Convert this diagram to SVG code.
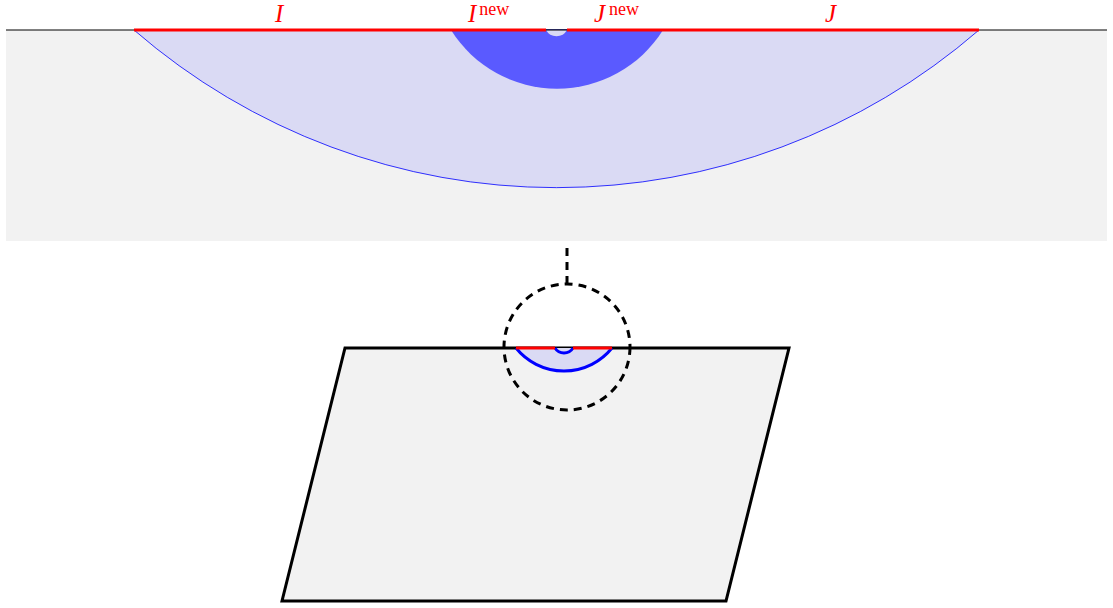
<svg xmlns="http://www.w3.org/2000/svg" width="1113" height="608" viewBox="0 0 1113 608">
<style>
.lbl{font-family:"Liberation Serif",serif;font-style:italic;font-size:25px;fill:#ff0000}
.sup{font-family:"Liberation Serif",serif;font-style:normal;font-size:18px;fill:#ff0000}
.red{stroke:#ff0000;stroke-width:3;fill:none}
</style>
<g id="top-panel">
<rect x="6" y="30" width="1101" height="211" fill="#f2f2f2"/>
<line x1="6" y1="30" x2="1107" y2="30" stroke="#000" stroke-width="1"/>
<path d="M134,30 A645,645 0 0 0 979,30 Z" fill="#dadaf4" stroke="#0000ff" stroke-width="0.8"/>
<path d="M451,30 A125,125 0 0 0 663,30 Z" fill="#5a5aff"/>
<path d="M546,30 A12,12 0 0 0 567,30 Z" fill="#dadaf4"/>
<line x1="546" y1="30" x2="567" y2="30" stroke="#000" stroke-width="1"/>
<line class="red" x1="134" y1="30" x2="546" y2="30"/>
<line class="red" x1="567" y1="30" x2="979" y2="30"/>
<text class="lbl" x="275" y="22">I</text>
<text class="lbl" x="468" y="22">I<tspan class="sup" dx="3" dy="-7">new</tspan></text>
<text class="lbl" x="594" y="22">J<tspan class="sup" dx="4" dy="-7">new</tspan></text>
<text class="lbl" x="825" y="22">J</text>
</g>
<g id="connectors">
<line x1="567" y1="248" x2="567" y2="283" stroke="#000" stroke-width="3" stroke-dasharray="8,6"/>
</g>
<g id="parallelogram">
<polygon points="345,348 789,348 726,601 282,601" fill="#f2f2f2" stroke="#000" stroke-width="3" stroke-linejoin="miter"/>
<path d="M516,348 A61.6,61.6 0 0 0 612,348 Z" fill="#dadaf4"/>
<path d="M516,348 A61.6,61.6 0 0 0 612,348" fill="none" stroke="#0000ff" stroke-width="3"/>
<path d="M555,348 A10.6,10.6 0 0 0 573,348" fill="none" stroke="#0000ff" stroke-width="3"/>
<line class="red" x1="516" y1="348" x2="555" y2="348"/>
<line class="red" x1="573" y1="348" x2="612" y2="348"/>
</g>
<g id="zoom-circle">
<circle cx="567" cy="347" r="63" fill="none" stroke="#000" stroke-width="3" stroke-dasharray="8,6"/>
</g>
</svg>
